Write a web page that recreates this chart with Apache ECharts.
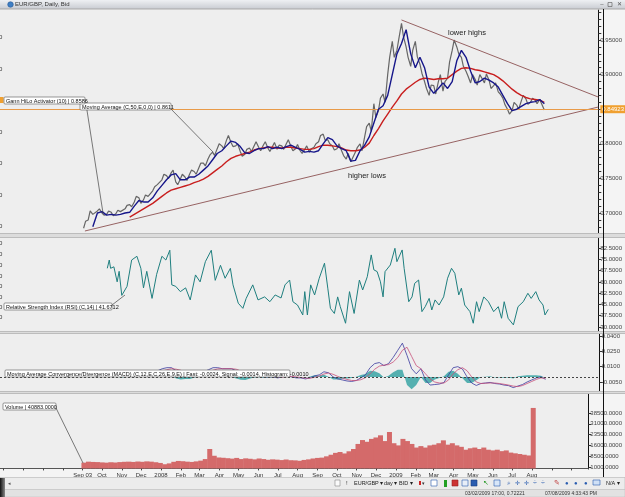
<!DOCTYPE html>
<html>
<head>
<meta charset="utf-8">
<script src="https://cdn.jsdelivr.net/npm/echarts@6/dist/echarts.min.js"></script>
<style>
  html, body { margin: 0; padding: 0; background: #f3f3f3; }
  #chart { width: 625px; height: 497px; }
</style>
</head>
<body>
<div id="chart"></div>
<script>
// weekly samples (monday of each week), Sep 03 2007 .. Aug 03 2009
const firstDay = new Date(2007, 8, 3)
function dayStr (offset) {
  const d = new Date(firstDay.getFullYear(), firstDay.getMonth(), firstDay.getDate() + offset)
  return d.getFullYear() + '-' + String(d.getMonth() + 1).padStart(2, '0') + '-' + String(d.getDate()).padStart(2, '0')
}
const weeks = []
const midWeeks = []
for (let i = 0; i <= 100; i++) {
  weeks.push(dayStr(7 * i))
  if (i < 100) midWeeks.push(dayStr(7 * i + 3))
}

// EUR/GBP bid, monday of each week
const price = [
  0.678, 0.690, 0.698, 0.703, 0.700, 0.698, 0.701, 0.699, 0.702, 0.706,
  0.712, 0.716, 0.722, 0.719, 0.724, 0.732, 0.741, 0.748, 0.754, 0.758,
  0.745, 0.749, 0.752, 0.756, 0.760, 0.765, 0.772, 0.778, 0.788, 0.793,
  0.797, 0.805, 0.802, 0.797, 0.789, 0.785, 0.794, 0.797, 0.795, 0.798,
  0.794, 0.796, 0.792, 0.797, 0.800, 0.796, 0.793, 0.790, 0.792, 0.788,
  0.795, 0.803, 0.814, 0.806, 0.797, 0.793, 0.790, 0.778, 0.774, 0.788,
  0.800, 0.810, 0.830, 0.858, 0.848, 0.872, 0.900, 0.948, 0.935, 0.974,
  0.940, 0.912, 0.948, 0.915, 0.890, 0.870, 0.884, 0.890, 0.876, 0.895,
  0.935, 0.940, 0.925, 0.905, 0.888, 0.893, 0.900, 0.888, 0.892, 0.884,
  0.875, 0.866, 0.850, 0.848, 0.856, 0.862, 0.865, 0.860, 0.863, 0.864, 0.849
]
// EUR/GBP bid, thursday of each week
const priceMid = [
  0.688, 0.703, 0.696, 0.706, 0.697, 0.703, 0.696, 0.704, 0.700, 0.711,
  0.709, 0.724, 0.714, 0.726, 0.722, 0.738, 0.739, 0.756, 0.750, 0.762,
  0.741, 0.756, 0.747, 0.762, 0.756, 0.772, 0.768, 0.784, 0.783, 0.800,
  0.793, 0.812, 0.796, 0.800, 0.782, 0.792, 0.789, 0.803, 0.790, 0.803,
  0.789, 0.802, 0.798, 0.792, 0.806, 0.790, 0.799, 0.786, 0.797, 0.793,
  0.800, 0.812, 0.805, 0.800, 0.791, 0.800, 0.783, 0.786, 0.772, 0.795,
  0.790, 0.825, 0.818, 0.838, 0.866, 0.860, 0.925, 0.925, 0.952, 0.955,
  0.925, 0.935, 0.926, 0.902, 0.880, 0.885, 0.872, 0.900, 0.890, 0.918,
  0.950, 0.930, 0.912, 0.898, 0.900, 0.885, 0.895, 0.901, 0.880, 0.888,
  0.872, 0.857, 0.843, 0.860, 0.850, 0.870, 0.857, 0.866, 0.858, 0.866
]
// Gann HiLo Activator (10)
const gannHiLo = [
  null, null, 0.680, 0.700, 0.702, 0.697, 0.698, 0.697, 0.698, 0.700,
  0.701, 0.710, 0.718, 0.716, 0.716, 0.722, 0.732, 0.740, 0.748, 0.755,
  0.757, 0.748, 0.748, 0.752, 0.752, 0.756, 0.762, 0.768, 0.777, 0.786,
  0.790, 0.797, 0.804, 0.802, 0.796, 0.787, 0.786, 0.790, 0.793, 0.793,
  0.796, 0.793, 0.795, 0.793, 0.796, 0.798, 0.795, 0.792, 0.788, 0.789,
  0.788, 0.790, 0.800, 0.809, 0.806, 0.797, 0.793, 0.790, 0.775, 0.776,
  0.790, 0.798, 0.810, 0.830, 0.850, 0.855, 0.870, 0.900, 0.930, 0.945,
  0.965, 0.930, 0.910, 0.925, 0.910, 0.882, 0.873, 0.880, 0.888, 0.880,
  0.890, 0.920, 0.935, 0.925, 0.905, 0.888, 0.890, 0.895, 0.892, 0.888,
  0.882, 0.870, 0.858, 0.848, 0.850, 0.854, 0.858, 0.860, 0.861, 0.864, 0.858
]
// Moving Average (C,50,E)
const ema50 = [
  null, null, null, null, null, null, null, null, null, null,
  0.694, 0.698, 0.702, 0.706, 0.710, 0.714, 0.719, 0.724, 0.729, 0.733,
  0.735, 0.737, 0.739, 0.741, 0.744, 0.746, 0.749, 0.753, 0.758, 0.763,
  0.768, 0.774, 0.779, 0.782, 0.784, 0.786, 0.788, 0.791, 0.793, 0.794,
  0.795, 0.795, 0.794, 0.794, 0.795, 0.795, 0.794, 0.793, 0.792, 0.792,
  0.793, 0.796, 0.798, 0.798, 0.797, 0.796, 0.794, 0.791, 0.790, 0.790,
  0.791, 0.795, 0.801, 0.812, 0.822, 0.833, 0.843, 0.853, 0.862, 0.872,
  0.879, 0.884, 0.889, 0.893, 0.895, 0.894, 0.893, 0.894, 0.894, 0.895,
  0.900, 0.905, 0.909, 0.910, 0.909, 0.907, 0.906, 0.904, 0.902, 0.900,
  0.896, 0.891, 0.885, 0.879, 0.874, 0.870, 0.867, 0.865, 0.864, 0.863, 0.860
]
// RSI (C,14), read at its turning points: day offset from Sep 03 2007 and value
const rsiDay = [
  36, 39, 41, 46, 51, 54, 58, 66, 73, 81, 87, 91, 96, 104, 111, 119, 125, 131, 134, 140,
  147, 155, 162, 170, 177, 185, 194, 200, 208, 215, 223, 227, 235, 242, 247, 257, 265, 275, 283, 291,
  300, 306, 313, 318, 325, 333, 336, 340, 345, 351, 358, 366, 371, 375, 381, 386, 390, 398, 404, 411,
  419, 424, 431, 437, 441, 446, 451, 455, 458, 466, 473, 476, 484, 487, 494, 499, 503, 509, 514, 519,
  525, 529, 534, 540, 547, 553, 559, 564, 570, 574, 579, 587, 592, 597, 601, 608, 615, 623, 630, 635,
  639, 645, 653, 660, 668, 675, 680, 687, 692, 698, 701, 706
]
const rsiValue = [
  69, 74.5, 69, 70, 60, 67, 51, 57, 74.5, 77, 69, 56, 67, 49, 65, 77, 74.5, 81, 58, 57,
  53.5, 56, 48, 64.6, 60, 73.4, 81, 61, 71, 62.4, 69, 58, 45.8, 42.4, 49, 58, 48, 50, 46.8, 51.3,
  49.3, 58, 61.2, 46.8, 44.6, 38, 53.5, 38, 58, 51.3, 62.4, 72.4, 55.8, 42.4, 39, 50, 43.5, 32.5, 53.5, 39,
  61.2, 54.6, 63.4, 77.9, 68, 66.8, 60, 50, 66.8, 71.2, 82.3, 73.4, 81.2, 69, 46.8, 50, 59, 61.2, 40.2, 43.5,
  49, 41.3, 48, 44.6, 50, 62.4, 69, 65.7, 51.3, 55.8, 44.6, 40.2, 32.5, 46.8, 40.2, 50, 46.8, 40.2, 43.5, 35.8,
  46.8, 35.8, 31.4, 43.5, 46.8, 52.4, 49, 53.5, 48, 44.6, 38, 41.7
]
// MACD (C,12,E,C,26,E,9,E)
const macdFast = [
  null, null, null, null, null, 0.002, 0.003, 0.003, 0.002, 0.002,
  0.003, 0.004, 0.005, 0.004, 0.004, 0.004, 0.006, 0.008, 0.009, 0.009,
  0.006, 0.004, 0.003, 0.002, 0.003, 0.004, 0.005, 0.007, 0.009, 0.009,
  0.008, 0.008, 0.008, 0.006, 0.003, 0.001, 0.001, 0.001, 0.001, 0.000,
  0.000, 0.000, -0.001, 0.000, 0.001, 0.000, -0.001, -0.001, -0.002, -0.001,
  0.001, 0.002, 0.005, 0.004, 0.000, -0.002, -0.003, -0.004, -0.0045, -0.0035,
  -0.001, 0.002, 0.009, 0.013, 0.014, 0.011, 0.013, 0.019, 0.026, 0.033,
  0.021, 0.008, 0.003, 0.008, -0.003, -0.008, -0.0075, -0.007, -0.0055, 0.002,
  0.009, 0.010, 0.0077, 0.000, -0.006, -0.0084, -0.0065, -0.006, -0.0054, -0.0065,
  -0.007, -0.008, -0.0086, -0.0105, -0.009, -0.0075, -0.005, -0.003, -0.001, 0.000, -0.0024
]
const macdSignal = [
  null, null, null, null, null, 0.001, 0.002, 0.0025, 0.0025, 0.0023,
  0.0025, 0.003, 0.0037, 0.004, 0.004, 0.004, 0.0045, 0.0057, 0.007, 0.008,
  0.0075, 0.0065, 0.005, 0.004, 0.0035, 0.0035, 0.004, 0.005, 0.0065, 0.0078,
  0.008, 0.008, 0.008, 0.0075, 0.0058, 0.004, 0.0025, 0.0017, 0.0013, 0.0008,
  0.0005, 0.0003, 0.000, -0.0002, 0.0003, 0.0003, 0.000, -0.0006, -0.0012, -0.0013,
  -0.0005, 0.0008, 0.0028, 0.0038, 0.0025, 0.0005, -0.0012, -0.0025, -0.0035, -0.0036,
  -0.0028, -0.0008, 0.003, 0.0075, 0.0105, 0.0115, 0.012, 0.0145, 0.019, 0.026,
  0.029, 0.020, 0.011, 0.008, 0.003, -0.002, -0.005, -0.006, -0.006, -0.003,
  0.003, 0.007, 0.009, 0.006, 0.000, -0.005, -0.0065, -0.0062, -0.006, -0.006,
  -0.0065, -0.0072, -0.008, -0.009, -0.0095, -0.0085, -0.0065, -0.0045, -0.0025, -0.001, -0.0014
]
const macdHist = [
  null, null, null, null, null, 0.001, 0.001, 0.0005, -0.0005, -0.0003,
  0.0005, 0.001, 0.0013, 0.000, 0.000, 0.000, 0.0015, 0.0023, 0.002, 0.001,
  -0.0015, -0.0025, -0.002, -0.002, -0.0005, 0.0005, 0.001, 0.002, 0.0025, 0.0012,
  0.000, 0.000, 0.000, -0.0015, -0.0028, -0.003, -0.0015, -0.0007, -0.0003, -0.0008,
  -0.0005, -0.0003, -0.001, 0.0002, 0.0007, -0.0003, -0.001, -0.0004, -0.0008, 0.0003,
  0.0015, 0.0012, 0.0022, 0.0002, -0.0025, -0.0025, -0.0018, -0.0015, -0.001, 0.0001,
  0.0018, 0.0028, 0.006, 0.0055, 0.0035, -0.0005, 0.001, 0.0045, 0.007, 0.007,
  -0.008, -0.012, -0.008, 0.000, -0.006, -0.006, -0.0025, -0.001, 0.0005, 0.005,
  0.006, 0.003, -0.0013, -0.006, -0.006, -0.0034, 0.000, 0.0002, 0.0006, -0.0005,
  -0.0005, -0.0008, -0.0006, -0.0015, 0.0005, 0.001, 0.0015, 0.0015, 0.0015, 0.001, -0.001
]
const volume = [
  4000, 4700, 4500, 4400, 4200, 4000, 4300, 4100, 4400, 4600,
  4700, 4500, 4800, 4600, 4900, 4700, 4300, 3800, 2900, 3500,
  4600, 5200, 5000, 4700, 4500, 4900, 5400, 6500, 13500, 8800,
  7600, 7400, 7100, 6800, 7300, 6500, 7000, 6700, 6300, 6900,
  6500, 6000, 6300, 6100, 5800, 6200, 5700, 5600, 5300, 5900,
  6300, 6900, 7300, 7500, 8400, 9500, 10800, 11400, 10400, 11900,
  13500, 17000, 19700, 18500, 20500, 21500, 23000, 19000, 25300, 17500,
  16000, 20500, 19000, 17000, 14500, 15500, 14500, 16000, 16500, 17500,
  19500, 16500, 17500, 16000, 15000, 13000, 14000, 14500, 13500, 14500,
  13000, 12500, 13000, 12000, 12500, 11000, 10500, 10000, 9500, 9000, 42000
]
// trend lines drawn on the price panel
const upperTrendDates = ['2008-12-29', '2009-10-24']
const upperTrendValues = [0.979, 0.8676]
const lowerTrendDates = ['2007-09-05', '2009-10-24']
const lowerTrendValues = [0.674, 0.8532]
const lastBid = 0.84923

// right axis tick labels
const priceLabels = [0.70, 0.75, 0.80, 0.90, 0.95]
const rsiLabels = [30, 37.5, 45, 52.5, 60, 67.5, 75, 82.5]
const macdLabels = [-0.005, 0.01, 0.025, 0.04]
const volumeLabels = [1000, 8500, 16000, 23500, 31000, 38500]
const priceTicks = []
for (let v = 68; v <= 99; v++) priceTicks.push(v / 100)

const monthAbbr = ['Jan', 'Feb', 'Mar', 'Apr', 'May', 'Jun', 'Jul', 'Aug', 'Sep', 'Oct', 'Nov', 'Dec']
const xMin = '2007-04-29'
const xMax = '2009-10-24'
const DAY = 86400000
const FONT = 'Liberation Sans'

function pairs (arr) {
  return weeks.map((d, i) => [d, arr[i]]).filter(p => p[1] !== null)
}
// monday and thursday samples merged in date order
const priceData = []
weeks.forEach((d, i) => {
  priceData.push([d, price[i]])
  if (i < priceMid.length) priceData.push([midWeeks[i], priceMid[i]])
})
const rsiData = rsiDay.map((d, i) => [dayStr(d), rsiValue[i]])

function dateLabel (value) {
  const d = new Date(value)
  if (d < new Date(2007, 7, 25) || d > new Date(2009, 7, 20)) return ''
  if (d.getFullYear() === 2007 && d.getMonth() === 8) return 'Sep 03'
  if (d.getMonth() === 0) return String(d.getFullYear())
  return monthAbbr[d.getMonth()]
}

const panels = [
  { top: 10, height: 223 },
  { top: 238, height: 93 },
  { top: 334, height: 57 },
  { top: 394, height: 75 }
]

function yAxisFor (i, min, max, ticks, labels, digits) {
  return {
    type: 'value',
    gridIndex: i,
    position: 'right',
    min: min,
    max: max,
    axisLine: { show: true, lineStyle: { color: '#111', width: 1 } },
    axisTick: { show: true, length: 3, customValues: ticks, lineStyle: { color: '#333' } },
    axisLabel: { customValues: labels, fontSize: 6, fontFamily: FONT, color: '#444', margin: 2, formatter: v => v.toFixed(digits) },
    splitLine: { show: false }
  }
}

function noteBox (x, y, w, h, text) {
  return [
    { type: 'rect', z: 100, silent: true, shape: { x: x, y: y, width: w, height: h, r: 1 }, style: { fill: '#ffffff', stroke: '#555', lineWidth: 0.6 } },
    { type: 'text', z: 101, silent: true, style: { text: text, x: x + 2, y: y + h / 2 + 0.5, fontSize: 5.5, fontFamily: FONT, fill: '#111', verticalAlign: 'middle' } }
  ]
}
function leader (x1, y1, x2, y2) {
  return { type: 'line', z: 99, silent: true, shape: { x1: x1, y1: y1, x2: x2, y2: y2 }, style: { stroke: '#444', lineWidth: 0.7 } }
}
function label (x, y, text, size, color, align) {
  return { type: 'text', z: 90, silent: true, style: { text: text, x: x, y: y, fontSize: size, fontFamily: FONT, fill: color || '#222', verticalAlign: 'middle', align: align || 'left' } }
}
function box (x, y, w, h, fill, stroke) {
  return { type: 'rect', z: 90, silent: true, shape: { x: x, y: y, width: w, height: h }, style: { fill: fill, stroke: stroke || null, lineWidth: 0.6 } }
}

const graphics = [
  // window title bar
  { type: 'rect', z: 80, silent: true, shape: { x: 0, y: 0, width: 625, height: 9 },
    style: { fill: new echarts.graphic.LinearGradient(0, 0, 0, 1, [{ offset: 0, color: '#eef0f3' }, { offset: 1, color: '#c9ccd2' }]) } },
  { type: 'line', z: 81, silent: true, shape: { x1: 0, y1: 9, x2: 625, y2: 9 }, style: { stroke: '#a6a6a6', lineWidth: 1 } },
  { type: 'circle', z: 81, silent: true, shape: { cx: 10.5, cy: 4.5, r: 2.8 }, style: { fill: '#3f7fc4', stroke: '#1f4f8a', lineWidth: 0.5 } },
  label(15, 4.8, 'EUR/GBP, Daily, Bid', 6, '#333'),
  label(602, 4.5, '–', 6, '#555', 'center'),
  box(608, 2.5, 4, 4, 'none', '#555'),
  label(619, 4.5, '✕', 5.5, '#555', 'center'),

  // panel separators
  box(0, 233, 625, 5, '#dcdcdc'),
  box(0, 233, 625, 1, '#bcbcbc'), box(0, 237, 625, 1, '#bcbcbc'),
  box(0, 331, 625, 3, '#dcdcdc'),
  box(0, 331, 625, 1, '#bcbcbc'), box(0, 333, 625, 1, '#bcbcbc'),
  box(0, 391, 625, 3, '#dcdcdc'),
  box(0, 391, 625, 1, '#bcbcbc'), box(0, 393, 625, 1, '#bcbcbc'),
  { type: 'line', z: 95, silent: true, shape: { x1: 603.5, y1: 9, x2: 603.5, y2: 477 }, style: { stroke: '#111', lineWidth: 1 } },

  // left axis remnants
  label(-1, 37.5, '0', 6, '#333'), label(-1, 69.5, '0', 6, '#333'), label(-1, 132, '0', 6, '#333'),
  label(-1, 163.5, '0', 6, '#333'), label(-1, 195, '0', 6, '#333'), label(-1, 226, '0', 6, '#333'),
  label(-1, 243, '0', 6, '#333'), label(-1, 254, '0', 6, '#333'), label(-1, 265, '0', 6, '#333'),
  label(-1, 276, '0', 6, '#333'), label(-1, 286, '0', 6, '#333'), label(-1, 297, '0', 6, '#333'),
  label(-1, 307, '0', 6, '#333'), label(-1, 317, '0', 6, '#333'),
  box(0, 97, 3.5, 6, '#f0a030'),

  // chart comments
  label(448, 33, 'lower highs', 7.5, '#222'),
  label(348, 176, 'higher lows', 7.5, '#222'),

  // indicator notes
  leader(170, 108, 213, 152),
  ...noteBox(80, 103, 91, 7, 'Moving Average (C,50,E,0,0) | 0.8611'),
  leader(86, 104, 103, 213),
  ...noteBox(4, 97, 81, 7, 'Gann HiLo Activator (10) | 0.8586'),
  leader(112, 305, 125, 295),
  ...noteBox(4, 303, 108, 7, 'Relative Strength Index (RSI) (C,14) | 41.6712'),
  ...noteBox(5, 370, 285, 7, 'Moving Average Convergence/Divergence (MACD) (C,12,E,C,26,E,9,E) | Fast: -0.0024, Signal: -0.0014, Histogram: -0.0010'),
  leader(56, 408, 83, 463),
  ...noteBox(3, 403, 53, 7, 'Volume | 40883.0000'),

  // bottom toolbar and status bar
  box(0, 477.5, 625, 12, '#ececec', '#b4b4b4'),
  box(0, 489.5, 625, 7.5, '#e2e2e2', '#c4c4c4'),
  { type: 'rect', z: 91, silent: true, shape: { x: 0, y: 478, width: 5, height: 19 },
    style: { fill: new echarts.graphic.LinearGradient(0, 0, 1, 0, [{ offset: 0, color: '#111' }, { offset: 1, color: '#888' }]) } },
  label(8, 483.5, '◂', 5, '#555'),
  box(335, 480, 5, 6, '#fafafa', '#888'),
  label(346, 483.5, '!', 6, '#333'),
  label(354, 483.5, 'EUR/GBP ▾', 5.5, '#222'),
  label(384, 483.5, 'day ▾', 5.5, '#222'),
  label(399, 483.5, 'BID ▾', 5.5, '#222'),
  box(419, 481, 2, 4, '#cc2222'), label(422, 483.5, '▾', 5, '#333'),
  box(431, 480, 6, 6, '#ffffff', '#2a5db0'),
  box(444, 480, 3, 7, '#22a022'),
  box(452, 480, 6, 6, '#cc3333', '#992222'),
  box(462, 480, 6, 6, '#e8eef8', '#2a5db0'),
  box(471, 480, 6, 6, '#2a5db0', '#1a3d80'),
  label(483, 483.5, '↖', 7, '#2a9a2a'),
  box(494, 480, 6, 6, '#d8e6f8', '#2a5db0'),
  label(507, 483.5, '⌕', 7, '#2a5db0'),
  label(515, 483.5, '✛', 6, '#2a5db0'), label(524, 483.5, '✛', 6, '#2a5db0'),
  label(533, 483.5, '÷', 7, '#2a5db0'), label(541, 483.5, '÷', 7, '#2a5db0'),
  label(554, 483.5, '✎', 6.5, '#c04040'),
  label(565, 483.5, '●', 6, '#2a5db0'), label(574, 483.5, '●', 6, '#2a5db0'), label(584, 483.5, '●', 6, '#2a5db0'),
  box(593, 480, 7, 5, '#cfe0f6', '#2a5db0'),
  label(606, 483.5, 'N/A ▾', 5.5, '#222'),
  label(465, 493.5, '03/02/2009 17:00, 0.72221', 5, '#333'),
  label(545, 493.5, '07/08/2009 4:33:43 PM', 5, '#333')
]

const chart = echarts.init(document.getElementById('chart'))
chart.setOption({
  backgroundColor: '#f4f4f4',
  animation: false,
  grid: panels.map(p => ({ left: 0, right: 22, top: p.top, height: p.height, show: true, backgroundColor: '#eeeeee', borderWidth: 0 })),
  xAxis: panels.map((p, i) => ({
    type: 'time',
    gridIndex: i,
    min: xMin,
    max: xMax,
    minInterval: 28 * DAY,
    maxInterval: 31 * DAY,
    axisLine: { show: i === 3, lineStyle: { color: '#555', width: 1 } },
    axisTick: { show: i === 3, length: 2, lineStyle: { color: '#444' } },
    axisLabel: { show: i === 3, fontSize: 6, fontFamily: FONT, color: '#333', margin: 3, formatter: dateLabel },
    splitLine: { show: false }
  })),
  yAxis: [
    yAxisFor(0, 0.6711, 0.9934, priceTicks, priceLabels, 5),
    yAxisFor(1, 27.34, 89.14, rsiLabels, rsiLabels, 4),
    yAxisFor(2, -0.01382, 0.04196, macdLabels, macdLabels, 4),
    yAxisFor(3, -400, 51690, volumeLabels, volumeLabels, 4)
  ],
  series: [
    {
      name: 'Bid', type: 'line', xAxisIndex: 0, yAxisIndex: 0, data: priceData,
      showSymbol: false, lineStyle: { color: '#666666', width: 1.2 }, z: 3,
      markLine: {
        silent: true, symbol: 'none',
        lineStyle: { color: '#e89a48', width: 1, type: 'solid' },
        label: { show: true, position: 'end', distance: 2, formatter: lastBid.toFixed(5), fontSize: 6, fontFamily: FONT, color: '#fff', backgroundColor: '#f0a030', padding: [1, 2] },
        data: [{ yAxis: lastBid }]
      }
    },
    { name: 'Moving Average', type: 'line', xAxisIndex: 0, yAxisIndex: 0, data: pairs(ema50), showSymbol: false, lineStyle: { color: '#c81e1e', width: 1.4 }, z: 4 },
    { name: 'Gann HiLo', type: 'line', xAxisIndex: 0, yAxisIndex: 0, data: pairs(gannHiLo), showSymbol: false, lineStyle: { color: '#16168a', width: 1.4 }, z: 5 },
    { name: 'Upper trend', type: 'line', xAxisIndex: 0, yAxisIndex: 0, data: upperTrendDates.map((d, i) => [d, upperTrendValues[i]]), showSymbol: false, lineStyle: { color: '#8c5252', width: 0.9 } },
    { name: 'Lower trend', type: 'line', xAxisIndex: 0, yAxisIndex: 0, data: lowerTrendDates.map((d, i) => [d, lowerTrendValues[i]]), showSymbol: false, lineStyle: { color: '#8c5252', width: 0.9 } },
    { name: 'RSI', type: 'line', xAxisIndex: 1, yAxisIndex: 1, data: rsiData, showSymbol: false, lineStyle: { color: '#1f7f7f', width: 1 } },
    {
      name: 'Histogram', type: 'line', xAxisIndex: 2, yAxisIndex: 2, data: pairs(macdHist), showSymbol: false,
      lineStyle: { width: 0 }, areaStyle: { color: '#44a8a8', opacity: 0.9 },
      markLine: { silent: true, symbol: 'none', label: { show: false }, lineStyle: { color: '#444', width: 1, type: [2, 2] }, data: [{ yAxis: 0 }] }
    },
    { name: 'Fast', type: 'line', xAxisIndex: 2, yAxisIndex: 2, data: pairs(macdFast), showSymbol: false, lineStyle: { color: '#3a3a9e', width: 0.8 } },
    { name: 'Signal', type: 'line', xAxisIndex: 2, yAxisIndex: 2, data: pairs(macdSignal), showSymbol: false, lineStyle: { color: '#c8507a', width: 0.8 } },
    { name: 'Volume', type: 'bar', xAxisIndex: 3, yAxisIndex: 3, data: pairs(volume), barWidth: 5, itemStyle: { color: '#d46a6a' } }
  ],
  graphic: graphics
})
</script>
</body>
</html>
